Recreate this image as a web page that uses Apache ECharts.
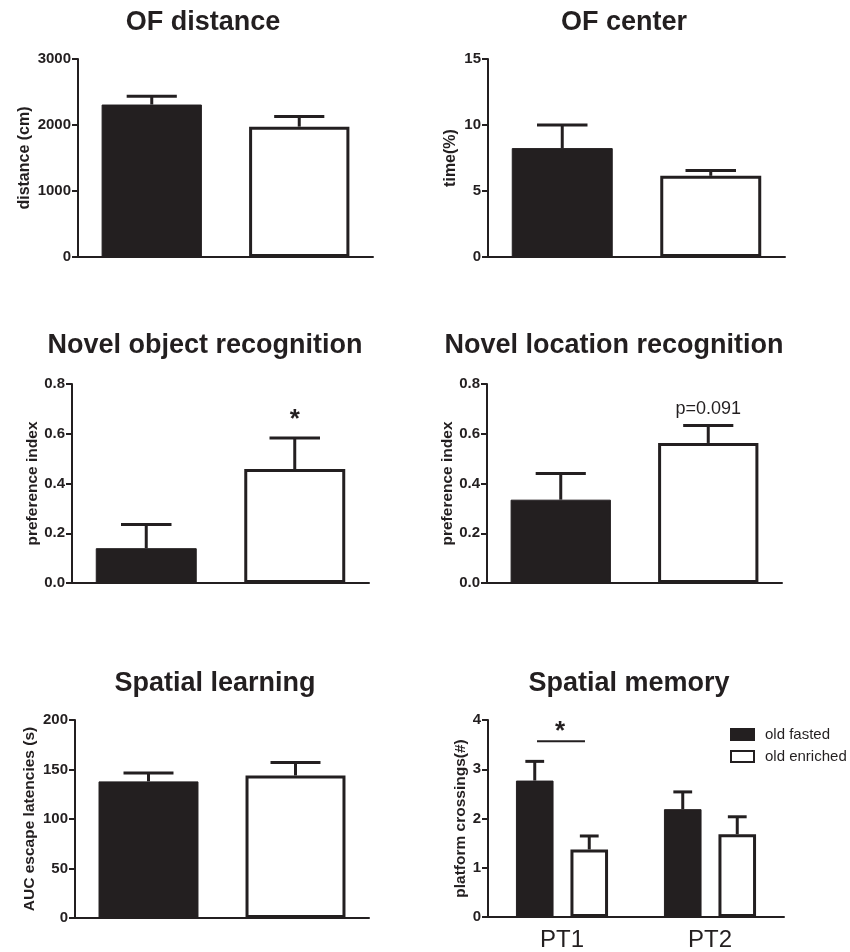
<!DOCTYPE html>
<html>
<head>
<meta charset="utf-8">
<title>Behavioural tests: old fasted vs old enriched</title>
<script src="https://cdn.jsdelivr.net/npm/echarts@6/dist/echarts.min.js"></script>
<style>
  html, body { margin: 0; padding: 0; background: #ffffff; }
  #chart { width: 850px; height: 952px; }
</style>
</head>
<body>
<div id="chart"></div>
<script>
// ---- data -------------------------------------------------------------
const groups = ['old fasted', 'old enriched'];

const ofDistanceMean = [2310, 1975];
const ofDistanceSem  = [125, 155];
const ofDistanceTicks = [0, 1000, 2000, 3000];

const ofCenterMean = [8.25, 6.15];
const ofCenterSem  = [1.75, 0.4];
const ofCenterTicks = [0, 5, 10, 15];

const norMean = [0.14, 0.458];
const norSem  = [0.095, 0.125];
const norNotes = ['', '*'];
const norTicks = [0, 0.2, 0.4, 0.6, 0.8];

const nlrMean = [0.335, 0.563];
const nlrSem  = [0.105, 0.07];
const nlrNotes = ['', 'p=0.091'];
const nlrTicks = [0, 0.2, 0.4, 0.6, 0.8];

const learnMean = [138, 144];
const learnSem  = [8.5, 13];
const learnTicks = [0, 50, 100, 150, 200];

const probeTrials = ['PT1', 'PT2'];
const memFastedMean   = [2.77, 2.19];
const memFastedSem    = [0.39, 0.35];
const memEnrichedMean = [1.37, 1.68];
const memEnrichedSem  = [0.275, 0.355];
const memSigLevel = [3.57];   // height of the PT1 comparison bracket
const memTicks = [0, 1, 2, 3, 4];

// ---- styling ----------------------------------------------------------
const FONT = '"Liberation Sans", Arial, Helvetica, sans-serif';
const INK = '#231f20';
const SINGLE_BAR = 0.68;          // bar width as fraction of the category band
const PAIR_BAR = 0.254;           // grouped bars (probe trials)
const PAIR_GAP = 0.45;            // gap between grouped bars, fraction of bar width

const fastedStyle   = { color: INK, borderColor: INK, borderWidth: 1 };
const enrichedStyle = { color: '#ffffff', borderColor: INK, borderWidth: 3 };

const panels = [
  { title: 'OF distance',               name: 'distance (cm)',              nameSize: 16,   ticks: ofDistanceTicks, mean: ofDistanceMean, sem: ofDistanceSem, grid: { left: 78,  top: 59,  width: 295, height: 198 }, nameGap: 45, titlePos: [203, 23] },
  { title: 'OF center',                 name: 'time(%)',                    nameSize: 16,   ticks: ofCenterTicks,   mean: ofCenterMean,   sem: ofCenterSem,   grid: { left: 488, top: 59,  width: 297, height: 198 }, nameGap: 29, titlePos: [624, 23] },
  { title: 'Novel object recognition',  name: 'preference index',           nameSize: 15.5, ticks: norTicks,        mean: norMean,        sem: norSem,        grid: { left: 72,  top: 384, width: 297, height: 199 }, nameGap: 30, titlePos: [205, 346], notes: norNotes, fixed: 1 },
  { title: 'Novel location recognition',name: 'preference index',           nameSize: 15.5, ticks: nlrTicks,        mean: nlrMean,        sem: nlrSem,        grid: { left: 487, top: 384, width: 295, height: 199 }, nameGap: 30, titlePos: [614, 346], notes: nlrNotes, fixed: 1 },
  { title: 'Spatial learning',          name: 'AUC escape latencies (s)',   nameSize: 15.5, ticks: learnTicks,      mean: learnMean,      sem: learnSem,      grid: { left: 75,  top: 720, width: 294, height: 198 }, nameGap: 37, titlePos: [215, 684] },
  { title: 'Spatial memory',            name: 'platform crossings(#)',      nameSize: 15.5, ticks: memTicks,        grid: { left: 488, top: 720, width: 296, height: 198 }, nameGap: 18, titlePos: [629, 684] }
];

// error bar (upper half only, Prism style) drawn through the axis scales
function errorBarSeries(gridIdx, means, sems, opts) {
  const o = Object.assign({ shift: 0, barFrac: SINGLE_BAR, notes: null, noteFont: 'bold 26px ' + FONT, noteGap: 5 }, opts || {});
  return {
    type: 'custom',
    xAxisIndex: gridIdx,
    yAxisIndex: gridIdx,
    silent: true,
    z: 5,
    data: means.map((m, i) => [i, m, sems[i]]),
    renderItem: function (params, api) {
      const cat = api.value(0), mean = api.value(1), sem = api.value(2);
      const band = api.size([1, 0])[0];
      const base = api.coord([cat, mean]);
      const top = api.coord([cat, mean + sem]);
      const x = base[0] + o.shift * band;
      const capHalf = band * o.barFrac * 0.25;
      const children = [
        { type: 'line', shape: { x1: x, y1: base[1], x2: x, y2: top[1] }, style: { stroke: INK, lineWidth: 3 } },
        { type: 'line', shape: { x1: x - capHalf, y1: top[1], x2: x + capHalf, y2: top[1] }, style: { stroke: INK, lineWidth: 3 } }
      ];
      const note = o.notes ? o.notes[params.dataIndex] : '';
      if (note) {
        const isStar = note === '*';
        children.push({
          type: 'text',
          style: {
            x: x, y: top[1] - (isStar ? o.noteGap : 8),
            text: note,
            fill: INK,
            font: isStar ? o.noteFont : '18px ' + FONT,
            align: 'center', verticalAlign: 'bottom'
          }
        });
      }
      return { type: 'group', children: children };
    }
  };
}

const grids = [], xAxes = [], yAxes = [], series = [], graphics = [];

panels.forEach((p, i) => {
  grids.push(Object.assign({ containLabel: false }, p.grid));
  const t = p.ticks;
  yAxes.push({
    gridIndex: i, type: 'value',
    min: t[0], max: t[t.length - 1], interval: t[1] - t[0],
    name: p.name, nameLocation: 'middle', nameGap: p.nameGap, nameRotate: 90,
    nameTextStyle: { fontFamily: FONT, fontWeight: 'bold', fontSize: p.nameSize, color: INK },
    axisLine: { show: true, lineStyle: { color: INK, width: 2 } },
    axisTick: { show: true, length: 6, lineStyle: { color: INK, width: 2 } },
    splitLine: { show: false },
    axisLabel: {
      margin: 7, fontFamily: FONT, fontWeight: 'bold', fontSize: 15, color: INK,
      formatter: p.fixed ? (v => v.toFixed(p.fixed)) : (v => String(v))
    }
  });
  const isMemory = i === 5;
  xAxes.push({
    gridIndex: i, type: 'category',
    data: isMemory ? probeTrials : groups,
    axisLine: { show: true, onZero: false, lineStyle: { color: INK, width: 2 } },
    axisTick: { show: false },
    axisLabel: isMemory
      ? { show: true, margin: 11, fontFamily: FONT, fontSize: 24, color: INK }
      : { show: false }
  });
  graphics.push({
    type: 'text', x: p.titlePos[0], y: p.titlePos[1],
    style: { text: p.title, font: 'bold 27px ' + FONT, fill: INK, align: 'center', verticalAlign: 'middle' }
  });

  if (!isMemory) {
    series.push({
      type: 'bar', name: p.title, xAxisIndex: i, yAxisIndex: i,
      barWidth: (SINGLE_BAR * 100) + '%',
      data: p.mean.map((v, k) => ({ value: v, itemStyle: k === 0 ? fastedStyle : enrichedStyle }))
    });
    series.push(errorBarSeries(i, p.mean, p.sem, { notes: p.notes || null }));
  }
});

// Spatial memory: grouped bars per probe trial
const pairShift = PAIR_BAR * (1 + PAIR_GAP) / 2;
series.push({
  type: 'bar', name: groups[0], xAxisIndex: 5, yAxisIndex: 5,
  barWidth: (PAIR_BAR * 100) + '%', barGap: (PAIR_GAP * 100) + '%',
  itemStyle: fastedStyle, data: memFastedMean
});
series.push({
  type: 'bar', name: groups[1], xAxisIndex: 5, yAxisIndex: 5,
  barWidth: (PAIR_BAR * 100) + '%', barGap: (PAIR_GAP * 100) + '%',
  itemStyle: enrichedStyle, data: memEnrichedMean
});
series.push(errorBarSeries(5, memFastedMean, memFastedSem, { shift: -pairShift, barFrac: PAIR_BAR }));
series.push(errorBarSeries(5, memEnrichedMean, memEnrichedSem, { shift: pairShift, barFrac: PAIR_BAR }));

// PT1 comparison bracket with its star
series.push({
  type: 'custom', xAxisIndex: 5, yAxisIndex: 5, silent: true, z: 5,
  data: memSigLevel.map(v => [0, v]),
  renderItem: function (params, api) {
    const band = api.size([1, 0])[0];
    const c = api.coord([api.value(0), api.value(1)]);
    const half = band * pairShift * 0.88;
    return {
      type: 'group',
      children: [
        { type: 'line', shape: { x1: c[0] - half - 1, y1: c[1], x2: c[0] + half - 1, y2: c[1] }, style: { stroke: INK, lineWidth: 2 } },
        { type: 'text', style: { x: c[0] - 2, y: c[1] + 4, text: '*', fill: INK, font: 'bold 26px ' + FONT, align: 'center', verticalAlign: 'bottom' } }
      ]
    };
  }
});

const chart = echarts.init(document.getElementById('chart'), null, { renderer: 'canvas' });
chart.setOption({
  animation: false,
  backgroundColor: '#ffffff',
  textStyle: { fontFamily: FONT },
  grid: grids,
  xAxis: xAxes,
  yAxis: yAxes,
  legend: {
    data: groups,
    orient: 'vertical',
    left: 730, top: 727,
    padding: 0,
    icon: 'rect',
    itemWidth: 23, itemHeight: 11, itemGap: 7,
    selectedMode: false,
    textStyle: { fontFamily: FONT, fontSize: 15, color: INK, padding: [0, 0, 0, 6], lineHeight: 15 }
  },
  series: series,
  graphic: graphics
});
</script>
</body>
</html>
